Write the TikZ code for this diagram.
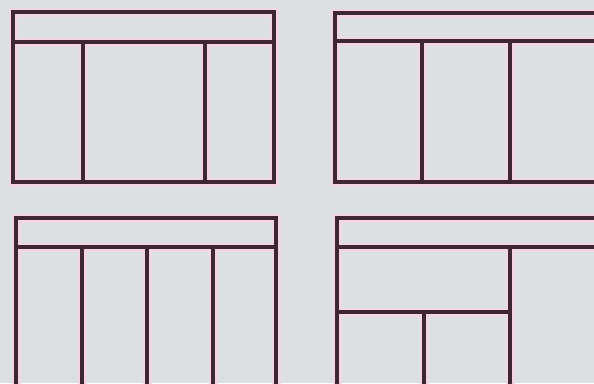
\documentclass[tikz,border=0pt]{standalone}
\usepackage{xcolor}
\usepackage{tikz}
\usetikzlibrary{calc}
\definecolor{paper}{HTML}{DDE0E3}
\definecolor{inkline}{HTML}{3E2632}
\definecolor{halopink}{HTML}{F3D6E4}
\tikzset{
    sheet/.style={x=1pt, y=-1pt},
    % the pink fringe round each ruled line
    halo/.style={gridline/.style={draw=halopink, line width=9pt, line cap=rect}},
    ink/.style={gridline/.style={draw=inkline, line width=3.4pt, line cap=rect}},
}
% all four page layouts, drawn once for the fringe and once for the ink
\newcommand{\layoutgrid}{
    % three columns, wide middle
    \draw[gridline] (13,12) rectangle (274,182);
    \draw[gridline] (13,42) -- (274,42);
    \foreach \xc in {83,205}
        \draw[gridline] (\xc,42) -- (\xc,182);
    % three equal columns
    \draw[gridline] (335,13) rectangle (640,182);
    \draw[gridline] (335,41) -- (640,41);
    \foreach \xc in {422,510}
        \draw[gridline] (\xc,41) -- (\xc,182);
    % four columns
    \draw[gridline] (16,218) rectangle (276,420);
    \draw[gridline] (16,247) -- (276,247);
    \foreach \xc in {82,147,213}
        \draw[gridline] (\xc,247) -- (\xc,420);
    % mixed blocks
    \draw[gridline] (337,218) rectangle (640,420);
    \draw[gridline] (337,247) -- (640,247);
    \draw[gridline] (510,247) -- (510,420);
    \draw[gridline] (337,312) -- (510,312);
    \draw[gridline] (424,312) -- (424,420);
}

\begin{document}
\begin{tikzpicture}[sheet]
    \useasboundingbox (0,0) rectangle (594,383);
    \clip (0,0) rectangle (594,383);
    \fill[paper] (0,0) rectangle (594,383);
    \begin{scope}[halo]
        \layoutgrid
    \end{scope}
    \begin{scope}[ink]
        \layoutgrid
    \end{scope}
\end{tikzpicture}
\end{document}
